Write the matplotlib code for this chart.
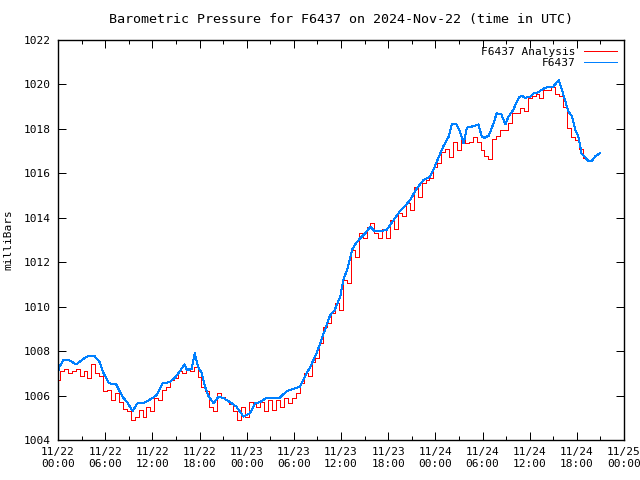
import matplotlib
matplotlib.use("Agg")
import matplotlib.pyplot as plt
import matplotlib.dates as mdates
import numpy as np
import pandas as pd

# observed station pressure (hours after 11/22 00:00 UTC, mbar)
obs_hours = [0.0, 0.1, 0.7, 1.4, 2.3, 3.6, 4.6, 5.3, 5.7, 6.5, 7.4, 8.2, 8.9, 9.5,
             10.1, 10.8, 11.6, 12.5, 13.3, 14.2, 15.0, 16.1, 16.4, 17.0, 17.4, 17.8,
             18.3, 18.7, 19.1, 19.8, 20.4, 21.0, 21.9, 22.7, 23.6, 24.4, 25.1, 25.7,
             26.5, 27.4, 28.2, 29.1, 29.9, 30.8, 31.4, 32.1, 32.9, 33.8, 34.6, 35.2,
             35.9, 36.3, 36.9, 37.4, 37.8, 38.4, 39.1, 39.7, 40.3, 41.0, 41.8, 42.7,
             43.5, 44.2, 44.8, 45.6, 46.5, 47.3, 47.8, 48.4, 49.0, 49.7, 50.1, 50.7,
             51.1, 51.6, 52.0, 52.6, 53.5, 53.9, 54.3, 54.8, 55.4, 55.8, 56.4, 56.9,
             57.3, 57.9, 58.6, 59.0, 59.4, 60.1, 60.5, 61.1, 61.7, 62.4, 63.0, 63.7,
             64.1, 64.5, 64.9, 65.4, 65.8, 66.2, 66.6, 67.1, 67.5, 67.9, 68.3, 68.9]
obs_mbar = [1006.9, 1007.24, 1007.6, 1007.6, 1007.4, 1007.75, 1007.8, 1007.5, 1007.07,
            1006.55, 1006.5, 1005.95, 1005.65, 1005.3, 1005.65, 1005.65, 1005.8, 1006.0,
            1006.55, 1006.6, 1006.85, 1007.4, 1007.15, 1007.2, 1007.9, 1007.3, 1007.0,
            1006.4, 1006.0, 1005.65, 1005.95, 1005.9, 1005.7, 1005.5, 1005.05, 1005.2,
            1005.65, 1005.7, 1005.9, 1005.9, 1005.9, 1006.2, 1006.3, 1006.4, 1006.85,
            1007.3, 1007.9, 1008.8, 1009.6, 1009.85, 1010.45, 1011.2, 1011.8, 1012.55,
            1012.8, 1013.07, 1013.3, 1013.6, 1013.4, 1013.4, 1013.45, 1013.9, 1014.3,
            1014.55, 1014.8, 1015.3, 1015.7, 1015.85, 1016.2, 1016.7, 1017.2, 1017.65,
            1018.2, 1018.2, 1017.9, 1017.35, 1018.05, 1018.1, 1018.2, 1017.65, 1017.6,
            1017.7, 1018.25, 1018.7, 1018.65, 1018.2, 1018.55, 1018.85, 1019.4, 1019.5,
            1019.4, 1019.45, 1019.6, 1019.65, 1019.8, 1019.9, 1019.9, 1020.2, 1019.75,
            1019.3, 1018.8, 1018.55, 1017.95, 1017.65, 1016.9, 1016.7, 1016.55, 1016.55,
            1016.75, 1016.9]

# analysis values, every 30 minutes from 11/22 00:00
ana_mbar = [1006.7, 1007.1, 1007.2, 1007.0, 1007.1, 1007.2, 1006.9, 1007.1, 1006.8, 1007.4,
            1007.0, 1006.9, 1006.2, 1006.25, 1005.8, 1006.1, 1005.7, 1005.4, 1005.3, 1004.9,
            1005.05, 1005.35, 1005.05, 1005.5, 1005.3, 1005.9, 1005.8, 1006.25, 1006.4, 1006.7,
            1006.8, 1007.1, 1007.0, 1007.15, 1007.1, 1007.3, 1006.85, 1006.4, 1006.2, 1005.5,
            1005.3, 1006.1, 1005.95, 1005.8, 1005.6, 1005.3, 1004.9, 1005.5, 1005.05, 1005.7,
            1005.6, 1005.5, 1005.7, 1005.3, 1005.8, 1005.35, 1005.8, 1005.5, 1005.9, 1005.65,
            1005.9, 1006.1, 1006.55, 1007.0, 1006.9, 1007.5, 1007.7, 1008.35, 1009.1, 1009.25,
            1009.7, 1010.15, 1009.85, 1011.2, 1011.05, 1012.55, 1012.25, 1013.3, 1013.1, 1013.6,
            1013.75, 1013.3, 1013.1, 1013.5, 1013.1, 1013.9, 1013.5, 1014.2, 1014.1, 1014.65,
            1014.35, 1015.4, 1014.95, 1015.55, 1015.7, 1015.8, 1016.3, 1016.45, 1016.95, 1017.1,
            1016.75, 1017.4, 1017.05, 1017.55, 1017.35, 1017.4, 1017.65, 1017.4, 1017.05, 1016.8,
            1016.65, 1017.55, 1017.7, 1017.95, 1017.95, 1018.25, 1018.7, 1018.7, 1018.95, 1018.8,
            1019.4, 1019.5, 1019.55, 1019.4, 1019.75, 1019.75, 1019.9, 1019.55, 1019.5, 1019.0,
            1018.05, 1017.65, 1017.5, 1017.1, 1016.7, 1016.6]

start = pd.Timestamp("2024-11-22 00:00")
obs_time = start + pd.to_timedelta(obs_hours, unit="h")
ana_time = pd.date_range(start, periods=len(ana_mbar), freq="30min")

plt.rcParams['font.family'] = ['DejaVu Sans Mono']
plt.rcParams['font.size'] = 8
plt.rcParams['lines.antialiased'] = False

fig = plt.figure(figsize=(6.4, 4.8), dpi=100)
ax = fig.add_axes([58 / 640, 40 / 480, 566 / 640, 400 / 480])

ax.plot(ana_time, ana_mbar, color='#ff0000', lw=0.72, drawstyle='steps-mid',
        label='F6437 Analysis')
ax.plot(obs_time, obs_mbar, color='#0080ff', lw=0.72, label='F6437')

ax.set_xlim(start, pd.Timestamp("2024-11-25 00:00"))
ax.set_ylim(1004, 1022)
ax.set_yticks(np.arange(1004, 1023, 2))
ax.xaxis.set_major_locator(mdates.HourLocator(byhour=[0, 6, 12, 18]))
ax.xaxis.set_minor_locator(mdates.HourLocator(byhour=[3, 9, 15, 21]))
ax.xaxis.set_major_formatter(mdates.DateFormatter('%m/%d\n%H:%M'))
ax.tick_params(which='both', direction='in', top=True, right=True, color='black',
               width=0.72)
ax.tick_params(which='major', length=6, pad=5)
ax.tick_params(which='minor', length=3)
for s in ax.spines.values():
    s.set_linewidth(1.0)

ax.set_ylabel('milliBars', labelpad=8)
ax.set_title('Barometric Pressure for F6437 on 2024-Nov-22 (time in UTC)', pad=12)
ax.legend(loc='upper right', frameon=False, markerfirst=False, handlelength=3,
          borderaxespad=0.2, labelspacing=0.1)

fig.savefig('out.png', dpi=100)
plt.close(fig)
